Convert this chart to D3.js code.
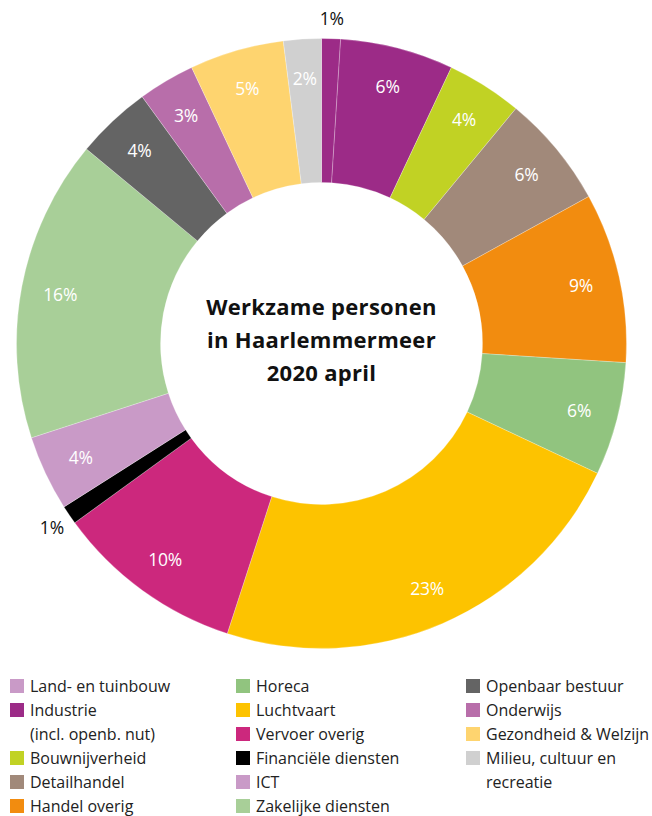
<!DOCTYPE html>
<html>
<head>
<meta charset="utf-8">
<script src="https://cdn.jsdelivr.net/npm/d3@7/dist/d3.min.js"></script>
<style>
  html, body { margin: 0; padding: 0; background: #fff; }
  svg { display: block; }
  text { font-family: "Open Sans", "Lato", sans-serif; }
</style>
</head>
<body>
<svg id="chart" width="652" height="816"></svg>
<script>
// Sectors, in clockwise order starting at 12 o'clock
const sectors = [
  "Land- en tuinbouw", "Industrie\n(incl. openb. nut)", "Bouwnijverheid", "Detailhandel",
  "Handel overig", "Horeca", "Luchtvaart", "Vervoer overig", "Financiële diensten",
  "ICT", "Zakelijke diensten", "Openbaar bestuur", "Onderwijs",
  "Gezondheid & Welzijn", "Milieu, cultuur en\nrecreatie"
];
// Share of employed persons (%)
const shares = [1, 6, 4, 6, 9, 6, 23, 10, 1, 4, 16, 4, 3, 5, 2];
// Fill of each ring segment
const sliceColors = [
  "#9c2b87", "#9c2b87", "#c1d224", "#a1897a", "#f28c0f", "#91c47f", "#fdc300",
  "#cc287d", "#000000", "#c99ac7", "#a8cf98", "#646464", "#b86eaa", "#fed46f", "#d0d0d0"
];
// Swatch colour of each legend entry
const legendColors = [
  "#c99ac7", "#9c2b87", "#c1d224", "#a1897a", "#f28c0f", "#91c47f", "#fdc300",
  "#cc287d", "#000000", "#c99ac7", "#a8cf98", "#646464", "#b86eaa", "#fed46f", "#d0d0d0"
];
// Segments whose label sits outside the ring
const outsideLabel = [true, false, false, false, false, false, false, false, true,
                      false, false, false, false, false, false];
const titleLines = ["Werkzame personen", "in Haarlemmermeer", "2020 april"];
// Legend columns (indices into sectors)
const legendColumns = [[0, 1, 2, 3, 4], [5, 6, 7, 8, 9, 10], [11, 12, 13, 14]];

const svg = d3.select("#chart");
const cx = 321.5, cy = 343.5, outerR = 305, innerR = 161;

const pie = d3.pie().sort(null).value(d => d.value);
const arcs = pie(shares.map((v, i) => ({ value: v, i })));
const arc = d3.arc().innerRadius(innerR).outerRadius(outerR);
const labelArc = d3.arc().innerRadius(266).outerRadius(266);
const outArc = d3.arc().innerRadius(326).outerRadius(326);

const g = svg.append("g").attr("transform", `translate(${cx},${cy})`);

g.selectAll("path.seg")
  .data(arcs)
  .join("path")
  .attr("class", "seg")
  .attr("d", arc)
  .attr("fill", d => sliceColors[d.data.i])
  .attr("stroke", "#ffffff")
  .attr("stroke-opacity", 0.5)
  .attr("stroke-width", 0.5);

g.selectAll("text.val")
  .data(arcs)
  .join("text")
  .attr("class", "val")
  .attr("transform", d => `translate(${(outsideLabel[d.data.i] ? outArc : labelArc).centroid(d)})`)
  .attr("text-anchor", "middle")
  .attr("dominant-baseline", "central")
  .attr("font-size", 17.5)
  .attr("letter-spacing", -0.2)
  .attr("fill", d => outsideLabel[d.data.i] ? "#111" : "#fff")
  .text(d => d.data.value + "%");

// Title in the hole
g.append("text")
  .attr("text-anchor", "middle")
  .attr("font-size", 22)
  .attr("font-weight", 700)
  .attr("letter-spacing", 0.3)
  .attr("fill", "#111")
  .selectAll("tspan")
  .data(titleLines)
  .join("tspan")
  .attr("x", 0)
  .attr("y", (d, i) => -36 + i * 33 + 7)
  .text(d => d);

// Legend
const colX = [10, 236, 466];
const rowY0 = 686, rowH = 24, sw = 14;
legendColumns.forEach((col, ci) => {
  let row = 0;
  col.forEach(idx => {
    const lines = sectors[idx].split("\n");
    const y = rowY0 + row * rowH;
    const item = svg.append("g");
    item.append("rect")
      .attr("x", colX[ci]).attr("y", y - sw / 2)
      .attr("width", sw).attr("height", sw)
      .attr("fill", legendColors[idx]);
    lines.forEach((ln, k) => {
      item.append("text")
        .attr("x", colX[ci] + 20)
        .attr("y", y + k * rowH)
        .attr("dominant-baseline", "central")
        .attr("font-size", 16)
        .attr("fill", "#222")
        .text(ln);
    });
    row += lines.length;
  });
});
</script>
</body>
</html>
